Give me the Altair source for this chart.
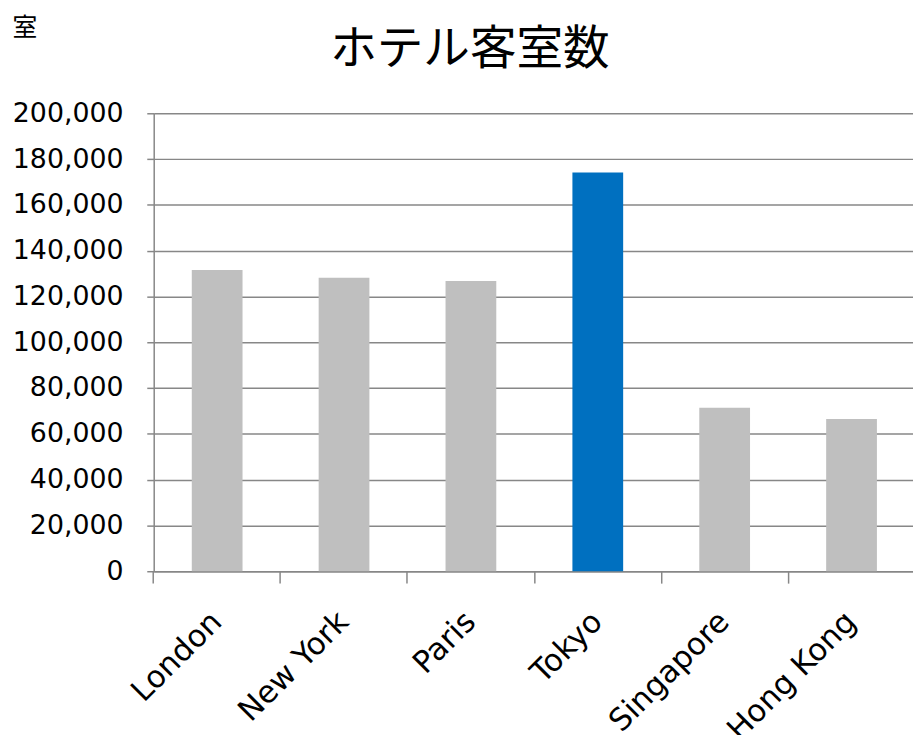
import altair as alt
import pandas as pd

cities = ["London", "New York", "Paris", "Tokyo", "Singapore", "Hong Kong"]
rooms = [131600, 128200, 126800, 174100, 71400, 66500]
y_ticks = [0, 20000, 40000, 60000, 80000, 100000, 120000, 140000, 160000, 180000, 200000]

df = pd.DataFrame({"city": cities, "rooms": rooms})

LATIN = "DejaVu Sans"
CJK = "Noto Sans CJK JP"

chart = alt.Chart(df).mark_bar().encode(
    x=alt.X(
        "city:N",
        sort=cities,
        scale=alt.Scale(paddingInner=0.6, paddingOuter=0.3, range=[0, 768]),
        axis=alt.Axis(
            title=None,
            labelAngle=-45,
            labelAlign="right",
            labelBaseline="middle",
            labelFont=LATIN,
            labelFontSize=31,
            labelColor="#000000",
            labelPadding=34,
            bandPosition=-0.75,
            tickSize=12,
            tickColor="#878787",
            tickWidth=1.5,
            domainColor="#878787",
            domainWidth=1.5,
            grid=False,
        ),
    ),
    y=alt.Y(
        "rooms:Q",
        scale=alt.Scale(domain=[0, 200000], nice=False),
        axis=alt.Axis(
            values=y_ticks,
            format=",d",
            title="室",
            titleAngle=0,
            titleAlign="left",
            titleBaseline="alphabetic",
            titleFont=CJK,
            titleFontSize=25,
            titleFontWeight="normal",
            titleColor="#000000",
            titleX=-143,
            titleY=-78,
            labelFont=LATIN,
            labelFontSize=27,
            labelColor="#000000",
            labelPadding=24,
            tickSize=7,
            tickColor="#878787",
            tickWidth=1.5,
            domainColor="#878787",
            domainWidth=1.5,
            grid=True,
            gridColor="#878787",
            gridWidth=1.5,
        ),
    ),
    color=alt.condition(
        alt.datum.city == "Tokyo", alt.value("#0070C0"), alt.value("#BFBFBF")
    ),
).properties(
    width=766,
    height=462,
    autosize=alt.AutoSizeParams(type="none"),
    padding={"left": 147, "top": 103, "right": 0, "bottom": 162},
    title=alt.TitleParams(
        "ホテル客室数",
        font=CJK,
        fontSize=47,
        fontWeight="normal",
        color="#000000",
        anchor="middle",
        dx=-64,
        offset=0,
        dy=95,
        baseline="alphabetic",
    ),
).configure_view(stroke=None)

chart.save("out.html", embed_options={"renderer": "svg", "actions": False})
